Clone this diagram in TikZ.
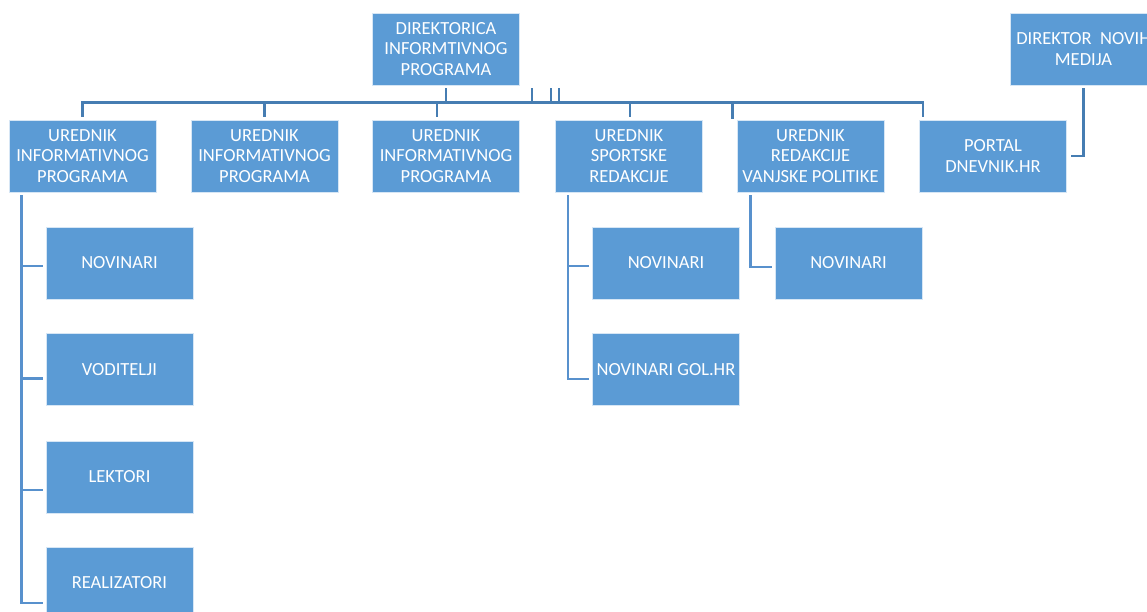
\documentclass[tikz,border=0pt]{standalone}
\usepackage{fontspec}
\setmainfont{Carlito}
\definecolor{orgblue}{RGB}{91, 155, 213}
\definecolor{orgedge}{RGB}{214, 230, 245}
\definecolor{busblue}{RGB}{70, 125, 178}
\definecolor{branchblue}{RGB}{88, 145, 205}
\usetikzlibrary{positioning, calc}
\tikzset{
  % Blue office-style box.
  orgbox/.style={
    rectangle,
    draw=orgedge, line width=0.8pt,
    fill=orgblue,
    minimum width=147pt, minimum height=72pt,
    inner xsep=4pt, inner ysep=2pt,
    align=center,
    font=\fontsize{18.5}{20.5}\selectfont,
    text=white,
  },
  % Connectors.
  bus/.style={draw=busblue, line width=2.6pt},
  branch/.style={draw=branchblue, line width=2.6pt},
}
\begin{document}
\begin{tikzpicture}[x=1pt, y=-1pt]
  \useasboundingbox (0,0) rectangle (1147,611);
  \clip (0,0) rectangle (1147,611);

  % Top level.
  \node[orgbox] (dir) at (446, 49) {DIREKTORICA\\INFORMTIVNOG\\PROGRAMA};
  \node[orgbox] (dnm) at (1083.5, 49) {DIREKTOR\ \ NOVIH\\MEDIJA};

  % Editors.
  \node[orgbox] (u1) at (82.5, 156) {UREDNIK\\INFORMATIVNOG\\PROGRAMA};
  \node[orgbox] (u2) at (264.5, 156) {UREDNIK\\INFORMATIVNOG\\PROGRAMA};
  \node[orgbox] (u3) at (446, 156) {UREDNIK\\INFORMATIVNOG\\PROGRAMA};
  \node[orgbox] (u4) at (629, 156) {UREDNIK\\SPORTSKE\\REDAKCIJE};
  \node[orgbox] (u5) at (810.5, 156) {UREDNIK\\REDAKCIJE\\VANJSKE POLITIKE};
  \node[orgbox] (portal) at (993, 156) {PORTAL\\DNEVNIK.HR};

  % Staff under the first editor.
  \node[orgbox] (nov) at (119.5, 263) {NOVINARI};
  \node[orgbox] (vod) at (119.5, 369.5) {VODITELJI};
  \node[orgbox] (lek) at (119.5, 477) {LEKTORI};
  \node[orgbox] (real) at (119.5, 583) {REALIZATORI};

  % Staff under sport and foreign desks.
  \node[orgbox] (snov) at (666, 263) {NOVINARI};
  \node[orgbox] (sgol) at (666, 369.5) {NOVINARI GOL.HR};
  \node[orgbox] (vnov) at (848.5, 263) {NOVINARI};

  % Main bus.
  \draw[bus] ([yshift=3pt]u1.north) -- ++(0,-14)
    -| ([xshift=4pt,yshift=3pt]portal.north west);
  \draw[bus] ([yshift=-3pt]dir.south) -- ++(0,15);
  \foreach \dx in {86,105,113}
    \draw[bus] ([xshift=\dx pt,yshift=-3pt]dir.south) -- ++(0,15);
  \foreach \n/\dx in {u2/0, u3/-9, u4/1}
    \draw[bus] ([xshift=\dx pt,yshift=3pt]\n.north) -- ++(0,-14);
  \draw[bus] ([xshift=-4pt,yshift=1pt]u5.north west) -- ++(0,-16);

  % New media to portal.
  \draw[bus] ([yshift=-3pt]dnm.south) |- ([xshift=4pt]portal.east);

  % Branches.
  \draw[branch] ([xshift=13pt,yshift=-3pt]u1.south west)
    |- ([xshift=-3pt,yshift=-20pt]real.west);
  \foreach \n/\dy in {nov/3, vod/9, lek/13}
    \draw[branch] ([xshift=-3pt,yshift=-\dy pt]\n.west) -- ++(-21,0);

  \draw[branch] ([xshift=13pt,yshift=-3pt]u4.south west)
    |- ([xshift=-3pt,yshift=-9.5pt]sgol.west);
  \draw[branch] ([xshift=-3pt,yshift=-3pt]snov.west) -- ++(-22,0);

  \draw[branch] ([xshift=14pt,yshift=-3pt]u5.south west)
    |- ([xshift=-3pt,yshift=-4pt]vnov.west);

\end{tikzpicture}
\end{document}
